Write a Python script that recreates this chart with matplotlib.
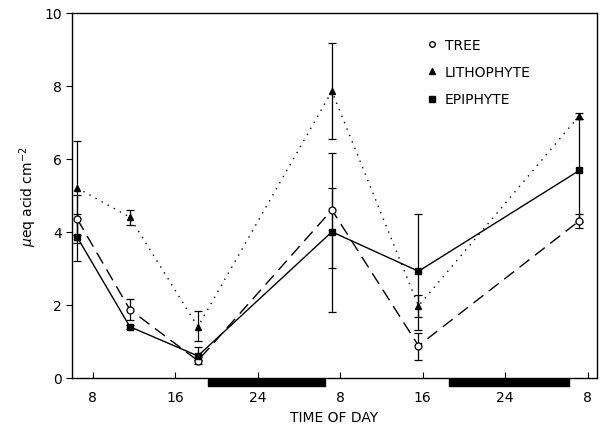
import matplotlib
matplotlib.use("Agg")
import matplotlib.pyplot as plt
from matplotlib.lines import Line2D

# sampling times, hours from midnight of day 1
hours = [6.5, 11.6, 18.2, 31.2, 39.6, 55.2]

tree = [4.35, 1.87, 0.47, 4.6, 0.88, 4.3]
tree_lo = [0.65, 0.28, 0.1, 1.6, 0.4, 0.2]
tree_hi = [0.65, 0.28, 0.1, 1.55, 0.35, 0.2]

litho = [5.2, 4.4, 1.4, 7.85, 1.97, 7.18]
litho_lo = [1.3, 0.22, 0.4, 1.3, 0.3, 0.08]
litho_hi = [1.3, 0.2, 0.42, 1.33, 0.3, 0.08]

epi = [3.85, 1.4, 0.6, 4.0, 2.92, 5.68]
epi_lo = [0.65, 0.05, 0.1, 2.2, 1.6, 1.4]
epi_hi = [0.65, 0.05, 0.25, 1.2, 1.58, 1.4]

night = [(19.2, 30.5), (42.6, 54.2)]

xticks = [8, 16, 24, 32, 40, 48, 56]
xlabels = ["8", "16", "24", "8", "16", "24", "8"]

fig = plt.figure(figsize=(6.01, 4.31), dpi=100)
ax = fig.add_axes([0.12, 0.121, 0.873, 0.847])

ekw = dict(ecolor="black", elinewidth=0.9, capsize=3, capthick=0.9, color="black")
ax.errorbar(hours, tree, yerr=[tree_lo, tree_hi], marker="o", ms=5,
            mfc="white", mec="black", mew=0.9, lw=1.0, dashes=(9, 5), **ekw)
ax.errorbar(hours, litho, yerr=[litho_lo, litho_hi], marker="^", ms=5,
            lw=1.0, ls=(0, (1, 4)), **ekw)
ax.errorbar(hours, epi, yerr=[epi_lo, epi_hi], marker="s", ms=5,
            lw=1.0, ls="-", **ekw)

# dark period bars under the axis
ax.broken_barh([(a, b - a) for a, b in night], (-0.021, 0.017),
               transform=ax.get_xaxis_transform(), color="black", clip_on=False)

ax.set_xlim(6, 56.9)
ax.set_ylim(0, 10)
ax.set_xticks(xticks)
ax.set_xticklabels(xlabels)
ax.set_yticks([0, 2, 4, 6, 8, 10])
ax.tick_params(axis="x", direction="in", length=4, labelsize=10, pad=9)
ax.tick_params(axis="y", direction="out", length=4, labelsize=10)
for s in ax.spines.values():
    s.set_linewidth(1.0)

ax.set_xlabel("TIME OF DAY", fontsize=10, labelpad=4)
ax.set_ylabel(r"$\mu$eq acid cm$^{-2}$", fontsize=10)

handles = [
    Line2D([], [], ls="none", marker="o", ms=4, mfc="white", mec="black"),
    Line2D([], [], ls="none", marker="^", ms=4, color="black"),
    Line2D([], [], ls="none", marker="s", ms=4, color="black"),
]
ax.legend(handles, ["TREE", "LITHOPHYTE", "EPIPHYTE"], loc="upper left",
          bbox_to_anchor=(0.655, 0.965), frameon=False, handlelength=0.6,
          handletextpad=0.6, fontsize=10, labelspacing=0.95)

fig.savefig("out.png", dpi=100)
